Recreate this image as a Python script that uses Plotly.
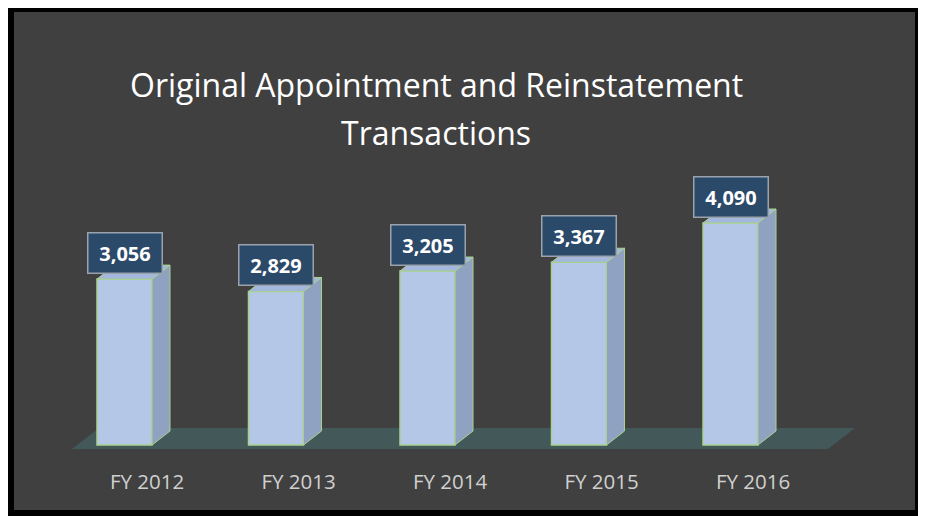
import plotly.graph_objects as go

categories = ["FY 2012", "FY 2013", "FY 2014", "FY 2015", "FY 2016"]
values = [3056, 2829, 3205, 3367, 4090]
title_line1 = "Original Appointment and Reinstatement"
title_line2 = "Transactions"

# the page body adds an 8px margin; the figure is placed with that offset
OFF = 8
W, H = 926 - OFF, 516 - OFF


def px(x):
    return x - OFF


PX_PER_X = 151.5          # pixels per category step
X0_PX = px(124.5)         # pixel of category 0 center
PX_PER_Y = 222 / 4090.0   # pixels per value unit
Y0_PX = px(445)           # pixel of value 0
PLOT_BOTTOM_PX = px(460)

x_range = [-X0_PX / PX_PER_X, (W - X0_PX) / PX_PER_X]
y_range = [-(PLOT_BOTTOM_PX - Y0_PX) / PX_PER_Y, Y0_PX / PX_PER_Y]

bw = 55 / PX_PER_X        # front face width
ddx = 18 / PX_PER_X       # depth offset x
ddy = 14 / PX_PER_Y       # depth offset y

front_col = "#b4c7e7"
side_col = "#8fa2c2"
top_col = "#a3b8dc"
edge_col = "#a9d18e"

fig = go.Figure()

xs = list(range(len(categories)))
fig.add_trace(go.Bar(
    x=xs, y=values, width=bw,
    marker=dict(color=front_col, line=dict(color=edge_col, width=1.5)),
    hoverinfo="skip", showlegend=False,
))

for i, v in zip(xs, values):
    r = i + bw / 2
    l = i - bw / 2
    fig.add_trace(go.Scatter(
        x=[r, r + ddx, r + ddx, r, r], y=[0, ddy, v + ddy, v, 0],
        mode="lines", fill="toself", fillcolor=side_col,
        line=dict(color=edge_col, width=1), hoverinfo="skip", showlegend=False,
    ))
    fig.add_trace(go.Scatter(
        x=[l, r, r + ddx, l + ddx, l], y=[v, v, v + ddy, v + ddy, v],
        mode="lines", fill="toself", fillcolor=top_col,
        line=dict(color=edge_col, width=1), hoverinfo="skip", showlegend=False,
    ))

# floor
fx0 = (px(72) - X0_PX) / PX_PER_X
fx1 = (px(828) - X0_PX) / PX_PER_X
fy0 = (Y0_PX - px(449)) / PX_PER_Y
fdx = 27 / PX_PER_X
fdy = 21 / PX_PER_Y
floor_path = (f"M {fx0} {fy0} L {fx1} {fy0} L {fx1 + fdx} {fy0 + fdy} "
              f"L {fx0 + fdx} {fy0 + fdy} Z")


def pxx(x):
    return px(x) / W


def pxy(y):
    return 1 - px(y) / H


shapes = [
    dict(type="rect", xref="paper", yref="paper", x0=pxx(6), x1=pxx(922),
         y0=pxy(520), y1=pxy(4), fillcolor="#000000",
         line=dict(width=0), layer="below"),
    dict(type="rect", xref="paper", yref="paper", x0=pxx(14), x1=pxx(915),
         y0=pxy(510), y1=pxy(12), fillcolor="#404040",
         line=dict(width=0), layer="below"),
    dict(type="path", xref="x", yref="y", path=floor_path,
         fillcolor="#435859", line=dict(width=0), layer="below"),
]

annotations = []
for i, v in zip(xs, values):
    annotations.append(dict(
        x=i, y=v, xref="x", yref="y", text=f"<b>{v:,}</b>",
        showarrow=False, yanchor="bottom", yshift=5,
        font=dict(family="Open Sans", size=20, color="#ffffff"),
        bgcolor="#2b4a69", bordercolor="#9aa3ad", borderwidth=1.5,
        borderpad=6, width=61,
    ))

for txt, yc in ((title_line1, 85), (title_line2, 132)):
    annotations.append(dict(
        x=pxx(436), y=pxy(yc), xref="paper", yref="paper", text=txt,
        showarrow=False, xanchor="center", yanchor="middle",
        font=dict(family="Open Sans", size=32, color="#ffffff"),
    ))

fig.update_layout(
    width=W, height=H,
    margin=dict(l=0, r=0, t=0, b=0),
    paper_bgcolor="#ffffff",
    plot_bgcolor="rgba(0,0,0,0)",
    shapes=shapes,
    annotations=annotations,
    showlegend=False,
    xaxis=dict(
        range=x_range, domain=[0, 1], automargin=False,
        tickmode="array",
        tickvals=[i + 22.5 / PX_PER_X for i in xs], ticktext=categories,
        ticks="outside", ticklen=3, tickcolor="rgba(0,0,0,0)",
        tickfont=dict(family="Open Sans", size=20.5, color="#d0d0d0"),
        showgrid=False, zeroline=False, showline=False, fixedrange=True,
    ),
    yaxis=dict(
        range=y_range, domain=[1 - PLOT_BOTTOM_PX / H, 1], automargin=False,
        visible=False, showgrid=False, zeroline=False, fixedrange=True,
    ),
)

fig.write_html("out.html")
